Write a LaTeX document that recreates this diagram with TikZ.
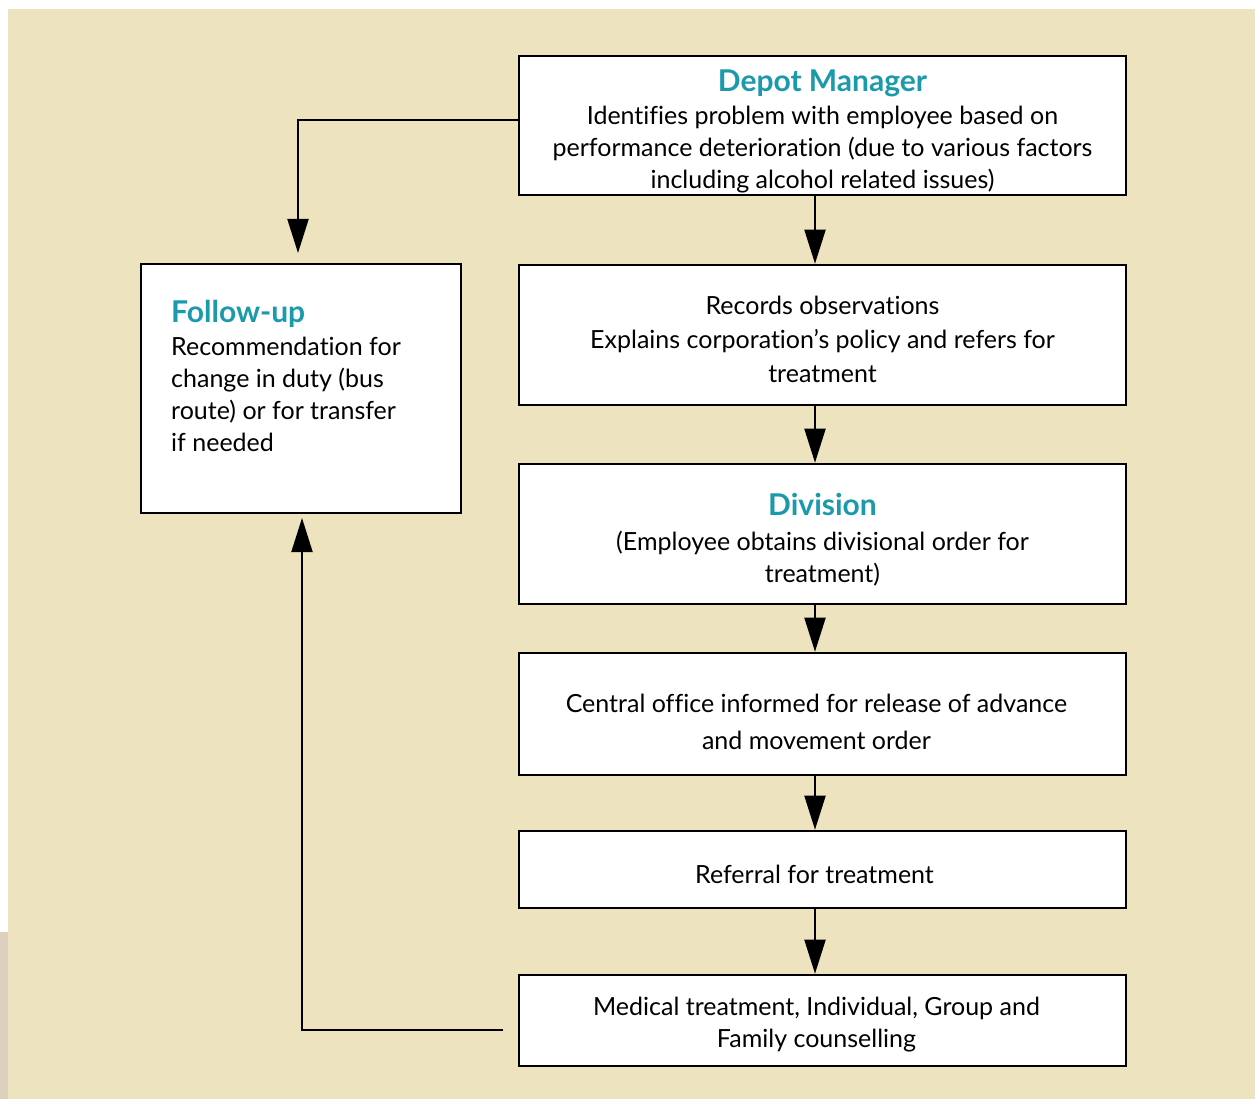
\documentclass[tikz,border=0pt]{standalone}
\usepackage{fontspec}
\setmainfont{Lato}[Ligatures=NoCommon]
\usetikzlibrary{arrows.meta}
\definecolor{bg}{HTML}{EDE3BE}
\definecolor{strip}{HTML}{DDD0BE}
\definecolor{teal}{HTML}{1A9AAA}
\tikzset{
  box/.style={draw=black, line width=2.6pt, fill=white, minimum width=607pt, inner sep=0pt},
  txt/.style={align=center, inner sep=0pt, font=\fontsize{25}{32}\selectfont},
  conn/.style={line width=2pt, -{Triangle[length=34pt,width=21pt]}}
}
\newcommand{\ttlx}[1]{{\fontsize{30}{34}\selectfont\bfseries\color{teal}#1}}
\begin{document}
\begin{tikzpicture}[x=1pt,y=-1pt]
\useasboundingbox (0,0) rectangle (1255,1099);
\fill[white] (0,0) rectangle (1255,1099);
\fill[strip] (0,932) rectangle (8,1099);
\fill[bg] (8,9) rectangle (1255,1099);

\node[box, minimum height=139pt] (dm) at (822.5,125.5) {};
\node[txt, yshift=-6pt] (dmt) at (dm.center) {\ttlx{Depot Manager}\\[1pt]
Identifies problem with employee based on\\
performance deterioration (due to various factors\\
including alcohol related issues)};
\node[box, minimum height=140pt] (ro) at (822.5,335) {};
\node[txt, yshift=-4pt, font=\fontsize{25}{34}\selectfont] (rot) at (ro.center) {Records observations\\
Explains corporation’s policy and refers for\\
treatment};
\node[box, minimum height=140pt] (dv) at (822.5,534) {};
\node[txt, yshift=-6pt] (dvt) at (dv.center) {\ttlx{Division}\\[3pt]
(Employee obtains divisional order for\\
treatment)};
\node[box, minimum height=122pt] (co) at (822.5,714) {};
\node[txt, xshift=-6pt, yshift=-8pt, font=\fontsize{25}{37}\selectfont] (cot) at (co.center) {Central office informed for release of advance\\
and movement order};
\node[box, minimum height=77pt] (rf) at (822.5,869.5) {};
\node[txt, xshift=-8pt, yshift=-5pt] (rft) at (rf.center) {Referral for treatment};
\node[box, minimum height=91pt] (md) at (822.5,1020.5) {};
\node[txt, xshift=-6pt, yshift=-4pt] (mdt) at (md.center) {Medical treatment, Individual, Group and\\
Family counselling};

\node[box, minimum width=320pt, minimum height=249pt] (fu) at (301,388.5) {};
\node[anchor=north west, align=left, inner sep=0pt, font=\fontsize{25}{32}\selectfont] (fut) at (171,300) {\ttlx{Follow-up}\\[1pt]
Recommendation for\\
change in duty (bus\\
route) or for transfer\\
if needed};

\coordinate (a) at (815,0);
\coordinate (c1) at (298,120);
\coordinate (c2) at (298,253);
\coordinate (c3) at (503,1030);
\coordinate (c4) at (302,1030);
\coordinate (c5) at (302,518);

\draw[conn] (dm.south -| a) -- (ro.north -| a);
\draw[conn] (ro.south -| a) -- (dv.north -| a);
\draw[conn] (dv.south -| a) -- (co.north -| a);
\draw[conn] (co.south -| a) -- (rf.north -| a);
\draw[conn] (rf.south -| a) -- (md.north -| a);
\draw[conn] (dm.west |- c1) -- (c1) -- (c2);
\draw[conn] (c3) -- (c4) -- (c5);
\end{tikzpicture}
\end{document}
